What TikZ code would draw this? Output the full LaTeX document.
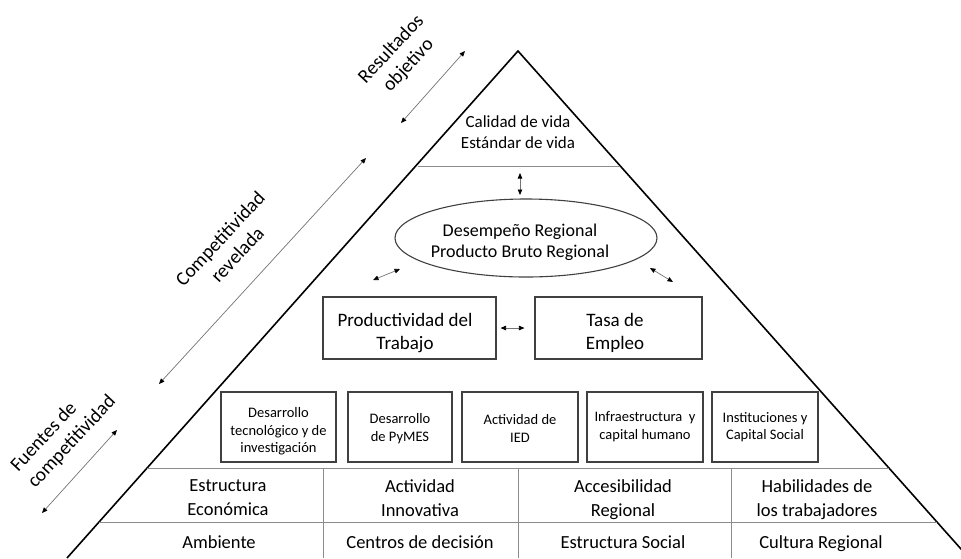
\documentclass[tikz,border=0pt]{standalone}
\usepackage{fontspec}
\setmainfont{Carlito}
\usetikzlibrary{arrows.meta,shapes.geometric}

\tikzset{
  struts/.style={execute at begin node=\strut, execute at end node=\strut},
  edge/.style={line width=1.6pt, black},
  rule/.style={line width=0.8pt, black!45},
  frame/.style={draw=black!75, line width=1.1pt, inner sep=0pt},
  bigbox/.style={frame, minimum height=62pt},
  smallbox/.style={frame, minimum height=70pt},
  cell/.style={align=center, struts, font=\fontsize{18.5}{24}\selectfont},
  bigtext/.style={align=center, struts, font=\fontsize{19}{23}\selectfont},
  smalltext/.style={align=center, struts, font=\fontsize{14.5}{17.5}\selectfont},
  sidelabel/.style={rotate=47, align=center, font=\fontsize{19.5}{23.5}\selectfont},
  tip/.tip={Triangle[length=5.5pt,width=4.5pt,color=black]},
  conn/.style={tip-tip, black!55, line width=0.7pt},
}

\begin{document}
\begin{tikzpicture}[x=1pt,y=-1pt]
\useasboundingbox (0,0) rectangle (961,558);
\clip (0,0) rectangle (961,558);

% pyramid outline
\coordinate (apex) at (518,51);
\coordinate (baseL) at (67,558);
\coordinate (baseR) at (969,558);
\draw[edge] (baseL) -- (apex) -- (baseR);

% horizontal rules and column separators
\draw[rule] (418,166) -- (620,166);
\draw[rule] (147,468) -- (889,468);
\draw[rule] (99,522) -- (937,522);
\foreach \x in {323,518,731} \draw[rule] (\x,468) -- (\x,558);

% top: objective results
\node[align=center, struts, font=\fontsize{17}{21}\selectfont] (vida) at (518,135.5)
  {Calidad de vida\\Estándar de vida};

% regional performance
\node[ellipse, frame, minimum width=262pt, minimum height=78pt] (desemp) at (526,238) {};
\node[align=center, struts, font=\fontsize{18}{21.5}\selectfont] (desemptxt) at (520,244)
  {Desempeño Regional\\Producto Bruto Regional};

% productivity and employment
\node[bigbox, minimum width=173pt] (prod) at (409.5,328) {};
\node[bigbox, minimum width=167pt] (tasa) at (618.5,328) {};
\node[bigtext] (prodtxt) at (405,334.5) {Productividad del\\Trabajo};
\node[bigtext] (tasatxt) at (615,334.5) {Tasa de\\Empleo};

% sources row
\node[smallbox, minimum width=115pt] (b1) at (278.5,427) {};
\node[smallbox, minimum width=104pt] (b2) at (400,427) {};
\node[smallbox, minimum width=116pt] (b3) at (520,427) {};
\node[smallbox, minimum width=116pt] (b4) at (645,427) {};
\node[smallbox, minimum width=106pt] (b5) at (765,427) {};
\node[smalltext] (b1txt) at (278.5,433) {Desarrollo\\tecnológico y de\\investigación};
\node[smalltext] (b2txt) at (400,430) {Desarrollo\\de PyMES};
\node[smalltext] (b3txt) at (520,431) {Actividad de\\IED};
\node[smalltext] (b4txt) at (645,428) {Infraestructura \ y\\capital humano};
\node[smalltext] (b5txt) at (765,428.5) {Instituciones y\\Capital Social};

% base table
\node[cell] (e1) at (228,501.5) {Estructura\\Económica};
\node[cell] (e2) at (420,501.5) {Actividad\\Innovativa};
\node[cell] (e3) at (623,501.5) {Accesibilidad\\Regional};
\node[cell] (e4) at (817,501.5) {Habilidades de\\los trabajadores};
\node[cell] (f1) at (219,544) {Ambiente};
\node[cell] (f2) at (420,544) {Centros de decisión};
\node[cell] (f3) at (623,544) {Estructura Social};
\node[cell] (f4) at (821,544) {Cultura Regional};

% links inside the pyramid
\coordinate (vtop) at (520,173);
\coordinate (vbot) at (520,195);
\draw[conn] (vtop) -- (vbot);
\draw[conn, shorten <=4pt, shorten >=10pt] (prod.east) -- (tasa.west);
\coordinate (dl1) at (373,280);
\coordinate (dl2) at (400,269);
\draw[conn] (dl1) -- (dl2);
\coordinate (dr1) at (650,268);
\coordinate (dr2) at (673,282);
\draw[conn] (dr1) -- (dr2);

% side labels with their range arrows
\node[sidelabel] (res) at (400,57.5) {Resultados\\objetivo};
\coordinate (r1) at (401,123);
\coordinate (r2) at (465,51);
\draw[conn] (r1) -- (r2);

\node[sidelabel] (comp) at (228.5,246.5) {Competitividad\\revelada};
\coordinate (c1) at (159,384);
\coordinate (c2) at (366,158);
\draw[conn] (c1) -- (c2);

\node[sidelabel, align=left] (fuentes) at (63.5,434) {Fuentes de\\competitividad};
\coordinate (s1) at (42,513);
\coordinate (s2) at (117,430);
\draw[conn] (s1) -- (s2);
\end{tikzpicture}
\end{document}
